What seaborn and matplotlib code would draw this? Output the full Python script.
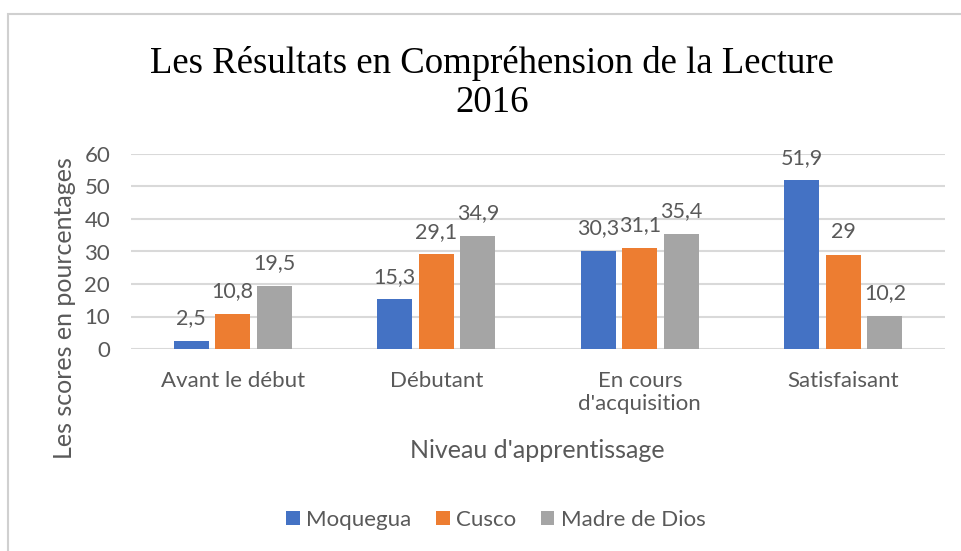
import numpy as np
import pandas as pd
import matplotlib
matplotlib.use("Agg")
import matplotlib.pyplot as plt
import seaborn as sns
from matplotlib.patches import Rectangle

niveaux = ['Avant le début', 'Débutant', 'En cours\nd\'acquisition', 'Satisfaisant']
regions = ['Moquegua', 'Cusco', 'Madre de Dios']
moquegua = [2.5, 15.3, 30.3, 51.9]
cusco = [10.8, 29.1, 31.1, 29]
madre_de_dios = [19.5, 34.9, 35.4, 10.2]
couleurs = ['#4472C4', '#ED7D31', '#A5A5A5']

df = pd.DataFrame({'niveau': niveaux * 3,
                   'region': np.repeat(regions, 4),
                   'score': moquegua + cusco + madre_de_dios})

sns.set_style('white')
plt.rcParams['font.family'] = ['Lato', 'DejaVu Sans']
gris = '#595959'

fig = plt.figure(figsize=(9.61, 5.51), dpi=100)
ax = fig.add_axes([131/961, 1-349/551, 814/961, 195/551])

sns.barplot(data=df, x='niveau', y='score', hue='region', palette=couleurs,
            saturation=1, width=0.614, gap=0.16, linewidth=0, ax=ax, legend=True)

for cont in ax.containers:
    labels = [('%g' % v).replace('.', ',') for v in cont.datavalues]
    ax.bar_label(cont, labels=labels, padding=9, fontsize=15.5, color=gris)

ax.set_ylim(0, 60)
ax.set_yticks(range(0, 61, 10))
ax.yaxis.grid(True, color='#d9d9d9', linewidth=1.5)
ax.set_axisbelow(True)
sns.despine(ax=ax, left=True, bottom=True)
ax.tick_params(axis='both', length=0, labelsize=16, labelcolor=gris)
ax.tick_params(axis='y', pad=15)
ax.tick_params(axis='x', pad=16)
for t in ax.get_xticklabels():
    t.set_verticalalignment('top')

# axis titles placed like in the original chart
ax.set_xlabel('')
ax.set_ylabel('')
fig.text(537/961, 1-450/551, 'Niveau d\'apprentissage', fontsize=18, color=gris,
         ha='center', va='center')
fig.text(65/961, 1-308/551, 'Les scores en pourcentages', fontsize=18, color=gris,
         ha='center', va='center', rotation=90)

handles, labs = ax.get_legend_handles_labels()
ax.get_legend().remove()
fig.legend(handles, labs, loc='center', bbox_to_anchor=(496/961, 1-520/551),
           ncol=3, frameon=False, fontsize=16, labelcolor=gris,
           handlelength=0.6, handleheight=0.6, handletextpad=0.3, columnspacing=1.1)

fig.text(492/961, 1-83/551, 'Les Résultats en Compréhension de la Lecture\n2016',
         ha='center', va='center', fontsize=26.5, family='Liberation Serif',
         color='black', linespacing=1.2)

fig.patches.append(Rectangle((8/961, -0.1), 1.2, 1-14/551+0.1, transform=fig.transFigure,
                             fill=False, edgecolor='#d0d0d0', linewidth=1.5))

fig.savefig('out.png', dpi=100)
